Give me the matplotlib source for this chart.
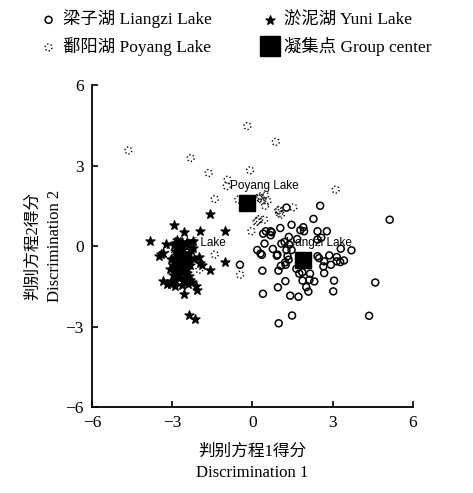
import matplotlib.pyplot as plt
from matplotlib.lines import Line2D

# 梁子湖 Liangzi Lake
liangzi_x = [2.53, 2.28, 1.27, 5.13, 1.90, 1.46, 1.79, 1.04, 2.43, 2.78, 2.57, 2.43, 0.72, 0.40,
             0.50, 0.68, 1.36, 1.67, 0.45, 1.08, 1.20, 1.37, 0.76, 0.91, 1.27, 1.46, 3.30, 3.70,
             2.87, 2.43, 1.99, 3.15, 3.15, 3.28, 3.42, 2.68, 2.65, 2.68, -0.47, 0.37, 0.97, 1.06,
             1.24, 0.93, 1.31, 1.64, 1.75, 1.86, 2.15, 2.13, 2.31, 1.87, 1.23, 3.05, 0.95, 2.01,
             2.09, 3.02, 4.59, 0.39, 1.41, 1.72, 1.48, 4.36, 0.98, 0.18, 0.30, 0.35, 1.93, 2.93,
             2.49, 0.68, 1.22, 1.35]
liangzi_y = [1.50, 1.01, 1.43, 0.98, 0.70, 0.79, 0.59, 0.67, 0.55, 0.55, 0.31, 0.24, 0.51, 0.46,
             0.55, 0.55, 0.34, 0.26, 0.09, 0.09, 0.15, 0.05, -0.11, -0.36, -0.15, -0.15, -0.10, -0.16,
             -0.35, -0.38, -0.38, -0.41, -0.57, -0.60, -0.54, -0.57, -0.76, -1.01, -0.70, -0.92, -0.92, -0.74,
             -0.70, -0.32, -0.38, -0.85, -1.03, -0.98, -1.03, -1.26, -1.32, -1.29, -1.31, -1.29, -1.54, -1.53,
             -1.70, -1.69, -1.36, -1.78, -1.85, -1.89, -2.59, -2.60, -2.88, -0.15, -0.28, -0.33, 0.55, -0.70,
             -0.45, 0.40, -0.61, -0.51]

# 淤泥湖 Yuni Lake
yuni_x = [-2.93, -2.55, -1.96, -1.02, -3.82, -3.24, -3.51, -3.43, -3.33, -1.99, -1.97, -1.90, -1.04,
          -1.58, -3.36, -3.20, -3.05, -2.12, -2.08, -2.55, -2.37, -2.16, -1.60,
          -2.80, -2.62, -2.43, -2.80, -2.62, -2.43, -2.99, -2.73, -2.36, -2.88, -2.50, -2.24, -2.95,
          -2.69, -2.50, -2.88, -2.50, -2.28, -3.10, -2.88, -2.99, -2.73, -2.36, -2.84, -2.24, -2.32,
          -2.70, -2.60, -2.90, -2.55, -2.75, -2.40, -2.85, -2.60, -2.70, -2.45, -2.95, -2.60, -2.75,
          -2.50, -2.90, -2.60, -2.35, -2.65, -2.40, -3.00, -2.65, -2.95, -2.45, -2.30, -2.20, -3.05]
yuni_y = [0.77, 0.51, 0.57, 0.55, 0.20, 0.07, -0.38, -0.30, -0.26, -0.42, -0.63, -0.70, -0.61,
          -0.91, -1.32, -1.42, -1.42, -1.50, -1.63, -1.79, -2.56, -2.71, 1.19,
          -0.07, -0.26, -0.45, -0.63, -0.82, -1.01, -1.08, -1.19, -1.12, 0.11, 0.07, -0.07, -0.45,
          -0.56, -0.71, -0.90, -1.31, -1.34, -0.86, -1.49, -0.71, -0.26, -0.26, 0.22, 0.19, -0.71,
          0.00, -0.10, -0.20, -0.35, -0.45, -0.60, -0.60, -0.65, -0.80, -0.85, -0.95, -0.95, -1.05,
          -1.15, -1.25, -1.30, -1.25, -1.45, -1.40, -1.30, 0.15, 0.05, 0.15, -0.15, -0.50, -0.50]

# 鄱阳湖 Poyang Lake
poyang_x = [0.87, -0.19, 0.87, -4.64, -2.31, -1.64, -0.09, 3.11, -0.93, -0.96, -1.41, -0.53, -1.41,
            -0.46, -1.99, -3.05, 0.19, 0.31, 0.47, 0.37, 0.47, 1.00, 1.00, 1.06, 1.53, 0.19, 0.44,
            0.15, 0.25, -0.04, 0.29, 0.56, 0.96]
poyang_y = [6.37, 4.47, 3.88, 3.56, 3.28, 2.72, 2.82, 2.10, 2.47, 2.23, 1.75, 1.73, -0.32,
            -1.07, -0.88, -0.11, 1.79, 1.85, 1.88, 1.71, 1.50, 1.35, 1.23, 1.17, 1.44, 0.94, 0.98,
            0.90, 1.00, 0.55, 1.79, 1.67, 1.32]

# 凝集点 Group center
center_names = ["Yuni Lake", "Poyang Lake", "Liangzi Lake"]
center_x = [-2.58, -0.19, 1.87]
center_y = [-0.52, 1.60, -0.52]

ticks = [-6, -3, 0, 3, 6]
serif = ["Liberation Serif", "Noto Sans CJK SC"]

fig = plt.figure(figsize=(4.73, 4.93), dpi=100)
ax = fig.add_axes([0.1945, 0.1744, 0.6786, 0.6532])

sc_lz = ax.scatter(liangzi_x, liangzi_y, s=25, facecolors="none", edgecolors="black", linewidths=1.1, zorder=2)
sc_py = ax.scatter(poyang_x, poyang_y, s=25, facecolors="none", edgecolors="black", linewidths=1.0,
                   linestyle=":", zorder=2)
sc_yn = ax.scatter(yuni_x, yuni_y, s=45, marker="*", color="black", zorder=2)
ax.scatter(center_x, center_y, s=130, marker="s", color="black", zorder=3)

for name, cx, cy in zip(center_names, center_x, center_y):
    ax.annotate(name, (cx, cy), xytext=(12, 12), textcoords="offset points", ha="center", va="center",
                fontsize=8.5, family="Liberation Sans", zorder=1)

ax.set_xlim(-6, 6)
ax.set_ylim(-6, 6)
ax.set_xticks(ticks)
ax.set_yticks(ticks)
ax.tick_params(direction="in", length=4, width=1.2, labelsize=12.5, pad=6)
for lab in ax.get_xticklabels() + ax.get_yticklabels():
    lab.set_family(serif)
ax.spines["top"].set_visible(False)
ax.spines["right"].set_visible(False)
ax.spines["left"].set_linewidth(1.3)
ax.spines["bottom"].set_linewidth(1.3)

ax.set_xlabel("判别方程1得分\nDiscrimination 1", family=serif, fontsize=12, labelpad=9, linespacing=1.45)
ax.set_ylabel("判别方程2得分\nDiscrimination 2", family=serif, fontsize=12, labelpad=2, linespacing=1.45)

square = Line2D([], [], ls="none", marker="s", ms=15, color="black")
handles = [sc_lz, sc_py, sc_yn, square]
labels = ["梁子湖 Liangzi Lake", "鄱阳湖 Poyang Lake", "淤泥湖 Yuni Lake", "凝集点 Group center"]
fig.legend(handles, labels, loc="upper left", bbox_to_anchor=(0.055, 1.012), ncol=2, frameon=False,
           prop={"family": serif, "size": 12.5}, handlelength=0.8, handletextpad=0.45,
           columnspacing=2.9, labelspacing=0.5, scatterpoints=1)

fig.savefig("out.png", dpi=100)
